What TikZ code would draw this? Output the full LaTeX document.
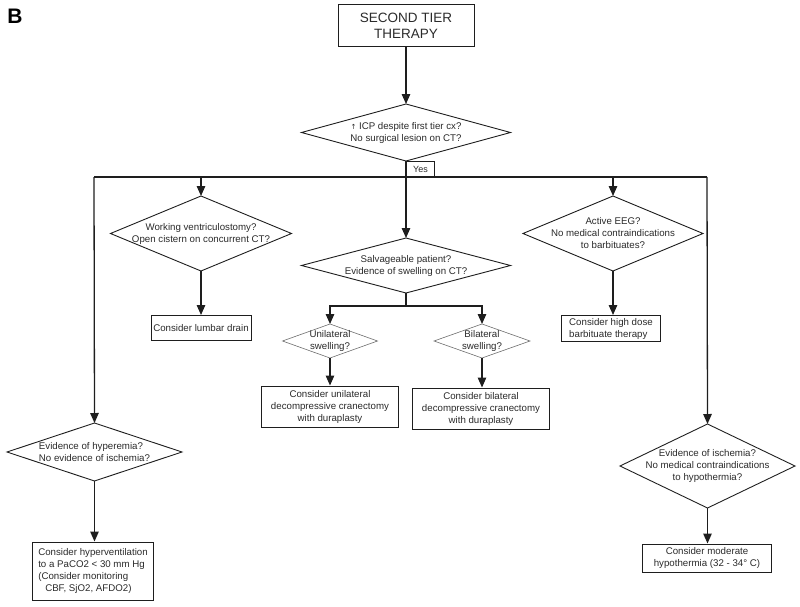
\documentclass[tikz,border=0pt]{standalone}
\usepackage{fontspec}
\setmainfont{Liberation Sans}
\newfontfamily\symfont{DejaVu Sans}
\usetikzlibrary{shapes.geometric,arrows.meta}
\definecolor{ink}{HTML}{1E1E1E}
\definecolor{txt}{HTML}{2A2A2A}
\begin{document}
\begin{tikzpicture}[x=1pt,y=-1pt,
  every node/.style={text=txt},
  line/.style={draw=ink,line width=1.3pt},
  arr/.style={line,-{Triangle[length=10pt,width=8.5pt]}},
  box/.style={draw=ink,line width=1pt,rectangle,inner sep=0pt,align=center,
     font=\fontsize{9.7}{12}\selectfont},
  dia/.style={draw=ink,line width=0.9pt,diamond,inner sep=0pt,outer sep=0pt},
  sdia/.style={draw=ink!65,line width=0.6pt,diamond,inner sep=0pt,outer sep=0pt},
  dtext/.style={align=center,inner sep=0pt,font=\fontsize{9.7}{12}\selectfont}]
\useasboundingbox (0,0) rectangle (800,607);

\node[font=\bfseries\fontsize{21}{21}\selectfont,text=black,inner sep=0pt] (lblB) at (15,16) {B};

% top box
\node[box,minimum width=136pt,minimum height=42pt,font=\fontsize{13.5}{16}\selectfont] (top) at (406,26) {SECOND TIER\\THERAPY};

% first decision
\node[dia,minimum width=209pt,minimum height=57pt] (d1) at (406,132.5) {};
\node[dtext] (d1t) at (406,133) {{\symfont\fontsize{7}{7}\selectfont ↑} ICP despite first tier cx?\\No surgical lesion on CT?};
\node[draw=ink,line width=0.9pt,anchor=north west,minimum width=28pt,minimum height=16pt,inner sep=0pt,font=\fontsize{9}{10}\selectfont] (yes) at (d1.south) {Yes};

% branch line
\coordinate (hL) at (94,177);
\coordinate (hR) at (707,177);
\draw[line] (hL) -- (hR);

% ventriculostomy
\node[dia,minimum width=181pt,minimum height=75pt] (d2) at (201,233.5) {};
\node[dtext] (d2t) at (201,233.5) {Working ventriculostomy?\\Open cistern on concurrent CT?};
\node[box,minimum width=100pt,minimum height=25pt] (lumbar) at (201,328) {Consider lumbar drain};

% salvageable
\node[dia,minimum width=209pt,minimum height=55pt] (d3) at (406,265.5) {};
\node[dtext] (d3t) at (406,265.5) {Salvageable patient?\\Evidence of swelling on CT?};
\coordinate (sj) at (406,306);
\node[sdia,minimum width=95pt,minimum height=34pt] (d4) at (330,341) {};
\node[dtext] (d4t) at (330,341) {Unilateral\\swelling?};
\node[sdia,minimum width=96pt,minimum height=34pt] (d5) at (482,341) {};
\node[dtext] (d5t) at (482,341) {Bilateral\\swelling?};
\node[box,minimum width=137pt,minimum height=41pt] (uni) at (330,406.5) {Consider unilateral\\decompressive cranectomy\\with duraplasty};
\node[box,minimum width=137pt,minimum height=41pt] (bi) at (481,408.5) {Consider bilateral\\decompressive cranectomy\\with duraplasty};

% EEG
\node[dia,minimum width=180pt,minimum height=75pt] (d6) at (613,233.5) {};
\node[dtext] (d6t) at (613,233.5) {Active EEG?\\No medical contraindications\\to barbituates?};
\node[box,minimum width=99pt,minimum height=26pt,align=left] (barb) at (611,328.5) {Consider high dose\\barbituate therapy};

% hyperemia
\node[dia,minimum width=175pt,minimum height=58pt] (d7) at (94.5,452) {};
\node[dtext,align=left] (d7t) at (94.5,452) {Evidence of hyperemia?\\No evidence of ischemia?};
\node[box,minimum width=121pt,minimum height=58pt,align=left] (hyper) at (93,571) {Consider hyperventilation\\to a PaCO2 < 30 mm Hg\\(Consider monitoring\\\hspace*{7pt}CBF, SjO2, AFDO2)};

% ischemia
\node[dia,minimum width=175pt,minimum height=84pt] (d8) at (707.5,466) {};
\node[dtext] (d8t) at (707.5,466) {Evidence of ischemia?\\No medical contraindications\\to hypothermia?};
\node[box,minimum width=129pt,minimum height=28pt] (hypo) at (707,558) {Consider moderate\\hypothermia (32 - 34° C)};

% connectors
\draw[arr] (top) -- (d1);
\draw[arr] (d1.south) -- (d3.north);
\draw[arr] (hL) -- (d7.north);
\draw[arr] (hR) -- (d8.north);
\draw[arr] (d2.north |- hL) -- (d2.north);
\draw[arr] (d6.north |- hL) -- (d6.north);
\draw[arr] (d2.south) -- (lumbar.north);
\draw[arr] (d6.south) -- (d6.south |- barb.north);
\draw[line] (d3.south) -- (sj);
\draw[arr] (sj) -| (d4.north);
\draw[arr] (sj) -| (d5.north);
\draw[arr] (d4.south) -- (uni.north);
\draw[arr] (d5.south) -- (d5.south |- bi.north);
\draw[arr] (d7.south) -- (d7.south |- hyper.north);
\draw[arr] (d8.south) -- (d8.south |- hypo.north);
\end{tikzpicture}
\end{document}
